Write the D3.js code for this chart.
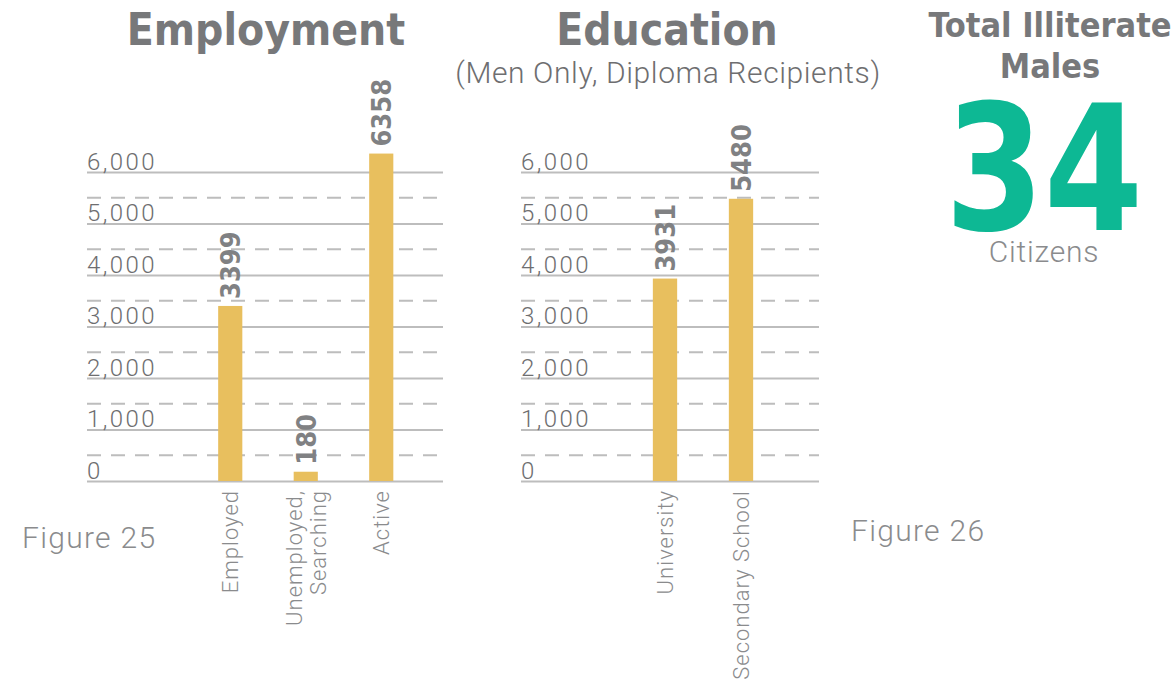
<!DOCTYPE html>
<html>
<head>
<meta charset="utf-8">
<script src="https://cdn.jsdelivr.net/npm/d3@7"></script>
<style>
  html, body { margin: 0; padding: 0; background: #fff; }
  svg { display: block; }
</style>
</head>
<body>
<svg id="chart" width="1174" height="690"></svg>
<script>
// Employment figures (men)
const employmentCategories = ["Employed", "Unemployed, Searching", "Active"];
const employmentValues = [3399, 180, 6358];

// Education figures (men only, diploma recipients)
const educationCategories = ["University", "Secondary School"];
const educationValues = [3931, 5480];

// Shared axis ticks
const majorTicks = [0, 1000, 2000, 3000, 4000, 5000, 6000];
const minorTicks = [500, 1500, 2500, 3500, 4500, 5500];

const illiterateMales = 34;

const BAR = "#E8BF5E";
const TEAL = "#0DB894";
const GRID = "#BDBDBD";
const TEXT = "#6E6E70";
const LIGHT = "#8A8B8D";

const svg = d3.select("#chart");

const y = d3.scaleLinear().domain([0, 6000]).range([481, 172]);

function drawPanel(opts) {
  const g = svg.append("g");
  const [x0, x1] = opts.gridExtent;

  // dashed half-step lines
  g.selectAll("line.minor").data(minorTicks).join("line")
    .attr("class", "minor")
    .attr("x1", x0).attr("x2", x1)
    .attr("y1", d => y(d)).attr("y2", d => y(d))
    .attr("stroke", GRID).attr("stroke-width", 1.8)
    .attr("stroke-dasharray", "14 10");

  // solid gridlines with tick labels from a left axis
  const axis = d3.axisLeft(y).tickValues(majorTicks)
    .tickSize(-(x1 - x0)).tickFormat(d3.format(","));
  const ag = g.append("g").attr("transform", `translate(${x0},0)`).call(axis);
  ag.select(".domain").remove();
  ag.selectAll(".tick line").attr("stroke", GRID).attr("stroke-width", 1.8);
  ag.selectAll(".tick text")
    .attr("x", 0).attr("dy", -3)
    .attr("text-anchor", "start")
    .attr("fill", TEXT)
    .style("font-family", "Roboto, sans-serif")
    .style("font-weight", 300)
    .style("font-size", "24px")
    .style("letter-spacing", "2.4px");

  const x = d3.scaleBand()
    .domain(opts.categories)
    .range(opts.bandRange)
    .paddingInner(0.68)
    .paddingOuter(0.34);

  const data = opts.categories.map((c, i) => ({ c, v: opts.values[i] }));

  g.selectAll("rect.bar").data(data).join("rect")
    .attr("class", "bar")
    .attr("x", d => x(d.c))
    .attr("width", x.bandwidth())
    .attr("y", d => y(d.v))
    .attr("height", d => y(0) - y(d.v))
    .attr("fill", BAR);

  // value labels, rotated, above each bar
  g.selectAll("text.val").data(data).join("text")
    .attr("class", "val")
    .attr("transform", d => `translate(${x(d.c) + x.bandwidth() / 2 + 10},${y(d.v) - 7}) rotate(-90)`)
    .attr("text-anchor", "start")
    .attr("fill", "#808183")
    .style("font-family", "'DejaVu Sans Condensed', 'DejaVu Sans', sans-serif")
    .style("font-weight", 700)
    .style("font-size", "27px")
    .text(d => d.v);

  // category labels, rotated under the baseline
  const cat = g.selectAll("text.cat").data(data).join("text")
    .attr("class", "cat")
    .attr("transform", d => `translate(${x(d.c) + x.bandwidth() / 2},${y(0) + 9}) rotate(-90)`)
    .attr("text-anchor", "end")
    .attr("fill", LIGHT)
    .style("font-family", "Roboto, sans-serif")
    .style("font-weight", 300)
    .style("font-size", "22px")
    .style("letter-spacing", "1px");
  cat.each(function (d) {
    const parts = d.c.includes(",") ? [d.c.split(",")[0] + ",", d.c.split(",")[1].trim()] : [d.c];
    const t = d3.select(this);
    parts.forEach((p, i) => {
      t.append("tspan")
        .attr("x", 0)
        .attr("y", (i - (parts.length - 1) / 2) * 24 + 8)
        .text(p);
    });
  });
}

drawPanel({
  categories: employmentCategories,
  values: employmentValues,
  gridExtent: [87, 443],
  bandRange: [192.5, 419]
});

drawPanel({
  categories: educationCategories,
  values: educationValues,
  gridExtent: [521, 819],
  bandRange: [627, 779]
});

// titles
svg.append("text")
  .attr("x", 266).attr("y", 45)
  .attr("text-anchor", "middle")
  .attr("fill", "#77787A")
  .style("font-family", "'DejaVu Sans Condensed', 'DejaVu Sans', sans-serif")
  .style("font-weight", 700)
  .style("font-size", "44px")
  .text("Employment");

svg.append("text")
  .attr("x", 667).attr("y", 45)
  .attr("text-anchor", "middle")
  .attr("fill", "#77787A")
  .style("font-family", "'DejaVu Sans Condensed', 'DejaVu Sans', sans-serif")
  .style("font-weight", 700)
  .style("font-size", "44px")
  .text("Education");

svg.append("text")
  .attr("x", 668).attr("y", 83)
  .attr("text-anchor", "middle")
  .attr("fill", TEXT)
  .style("font-family", "Roboto, sans-serif")
  .style("font-weight", 300)
  .style("font-size", "30px")
  .style("letter-spacing", "0.6px")
  .text("(Men Only, Diploma Recipients)");

// figure captions
svg.append("text")
  .attr("x", 22).attr("y", 548)
  .attr("fill", LIGHT)
  .style("font-family", "Roboto, sans-serif")
  .style("font-weight", 300)
  .style("font-size", "30px")
  .style("letter-spacing", "1.3px")
  .text("Figure 25");

svg.append("text")
  .attr("x", 851).attr("y", 541)
  .attr("fill", LIGHT)
  .style("font-family", "Roboto, sans-serif")
  .style("font-weight", 300)
  .style("font-size", "30px")
  .style("letter-spacing", "1.3px")
  .text("Figure 26");

// headline number
svg.append("text")
  .attr("x", 1050).attr("y", 37)
  .attr("text-anchor", "middle")
  .attr("fill", "#77787A")
  .style("font-family", "'DejaVu Sans Condensed', 'DejaVu Sans', sans-serif")
  .style("font-weight", 700)
  .style("font-size", "34px")
  .text("Total Illiterate");

svg.append("text")
  .attr("x", 1050).attr("y", 78)
  .attr("text-anchor", "middle")
  .attr("fill", "#77787A")
  .style("font-family", "'DejaVu Sans Condensed', 'DejaVu Sans', sans-serif")
  .style("font-weight", 700)
  .style("font-size", "34px")
  .text("Males");

svg.append("text")
  .attr("x", 1044).attr("y", 230)
  .attr("text-anchor", "middle")
  .attr("fill", TEAL)
  .style("font-family", "'DejaVu Sans Condensed', 'DejaVu Sans', sans-serif")
  .style("font-weight", 700)
  .style("font-size", "174px")
  .attr("textLength", 198)
  .attr("lengthAdjust", "spacingAndGlyphs")
  .text(illiterateMales);

svg.append("text")
  .attr("x", 1044).attr("y", 262)
  .attr("text-anchor", "middle")
  .attr("fill", LIGHT)
  .style("font-family", "Roboto, sans-serif")
  .style("font-weight", 300)
  .style("font-size", "30px")
  .style("letter-spacing", "0.8px")
  .text("Citizens");
</script>
</body>
</html>
